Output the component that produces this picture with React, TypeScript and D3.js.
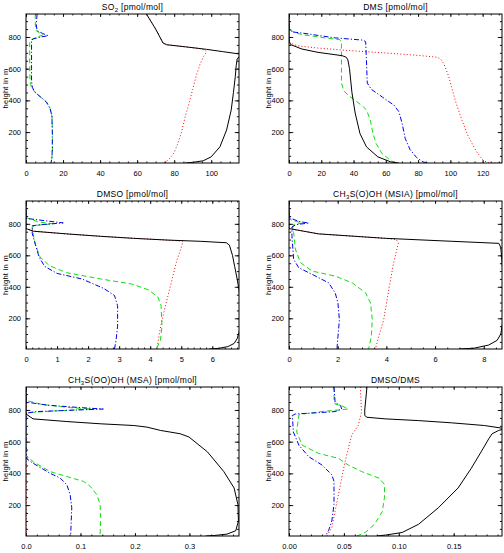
import * as d3 from 'd3';
import React, { useRef, useEffect } from 'react';

// vertical axis: model column from 5 m up to 945 m
const heightRange = [5, 945];
const heightTicks = [200, 400, 600, 800];
const heightMinor = d3.range(50, 945, 50);

// profiles are [mixing ratio, height in m]
// SO2
const so2Solid = [[65, 945], [70, 850], [74, 762], [76, 751], [86, 738], [97.5, 722], [106, 708], [118, 688], [115, 676], [114, 660], [113.5, 620], [113, 550], [112, 450], [110.8, 340], [108.3, 213], [104.7, 107], [100, 44], [95.7, 19], [90, 9], [86, 5]];
const so2Dotted = [[65, 945], [70, 850], [74, 762], [76, 751], [86, 738], [94, 727], [96.5, 718], [97.5, 705], [96, 680], [94, 630], [92, 560], [90, 470], [88, 380], [86, 300], [84, 200], [82, 130], [80, 70], [77, 25], [74, 5]];
const so2Dashed = [[5, 945], [5, 880], [5.5, 840], [8, 820], [9, 812], [6, 800], [3, 785], [2, 770], [2, 700], [2, 600], [2.2, 520], [3, 480], [5, 450], [8, 420], [11, 390], [13, 350], [14, 300], [14.3, 200], [14.3, 100], [14, 40], [13.5, 5]];
const so2DashDot = [[6, 945], [5.5, 880], [6, 840], [9, 822], [12, 808], [8, 800], [4, 788], [3, 780], [3, 700], [3, 600], [3, 520], [3.5, 480], [5, 450], [8, 420], [11, 390], [13, 350], [14, 300], [14.2, 200], [14.2, 100], [14, 40], [13.5, 5]];

// DMS
const dmsSolid = [[0, 945], [0, 800], [0.3, 770], [1, 752], [8, 724], [18, 703], [33, 682], [35.5, 672], [36.5, 655], [37.5, 600], [39, 450], [41, 320], [44, 190], [48, 107], [55, 44], [63, 12], [68, 5]];
const dmsDotted = [[0, 945], [0, 765], [5, 745], [18, 730], [39, 713], [60, 699], [80, 684], [92, 672], [94, 660], [96, 630], [99, 550], [103, 400], [107, 280], [111, 175], [116, 80], [120, 25], [123, 8], [126, 5], [132, 5]];
const dmsDashed = [[0, 945], [0, 850], [3, 830], [8, 815], [22, 795], [31.5, 783], [32.5, 770], [32.5, 600], [32.5, 510], [34, 460], [37, 430], [41, 400], [46, 360], [48, 340], [50.4, 276], [52, 192], [54, 128], [57.6, 65], [62.8, 23], [66, 5]];
const dmsDashDot = [[0, 945], [0, 850], [2, 832], [8, 825], [28, 795], [46, 780], [47.5, 770], [48, 650], [48.5, 510], [51, 470], [58, 420], [65, 370], [68, 330], [70, 260], [72, 160], [75, 90], [79, 40], [83, 12], [86, 5]];

// DMSO
const dmsoSolid = [[0, 945], [0, 770], [0.24, 753], [1.31, 736], [2.39, 721], [3.46, 708], [4.54, 697], [5.61, 689], [6.45, 680], [6.55, 665], [6.65, 600], [6.72, 530], [6.8, 450], [6.86, 380], [6.9, 300], [6.9, 150], [6.86, 110], [6.8, 70], [6.7, 40], [6.5, 20], [6.2, 9], [5.9, 5]];
const dmsoDotted = [[0, 770], [0.24, 753], [1.31, 736], [2.39, 721], [3.46, 708], [4.54, 697], [5.05, 690], [5.02, 660], [4.86, 570], [4.65, 404], [4.43, 232], [4.3, 110], [4.22, 5]];
const dmsoDashed = [[0, 945], [0, 840], [0.4, 812], [0.88, 800], [0.3, 790], [0.2, 780], [0.22, 746], [0.3, 670], [0.45, 590], [0.75, 535], [1.3, 490], [2.4, 450], [3.4, 418], [3.95, 380], [4.25, 335], [4.35, 280], [4.38, 150], [4.33, 60], [4.2, 5]];
const dmsoDashDot = [[0, 945], [0, 835], [0.6, 820], [1.2, 806], [0.5, 795], [0.2, 788], [0.2, 740], [0.3, 670], [0.42, 590], [0.6, 530], [1.0, 485], [1.8, 450], [2.5, 390], [2.85, 345], [2.95, 280], [2.95, 150], [2.9, 60], [2.85, 5]];

// MSIA
const msiaSolid = [[0, 945], [0, 770], [1.22, 736], [3.96, 708], [6.7, 689], [8.62, 676], [8.7, 650], [8.75, 560], [8.8, 450], [8.8, 200], [8.7, 100], [8.55, 60], [8.2, 30], [7.6, 10], [7.0, 5]];
const msiaDotted = [[0, 770], [1.22, 736], [3.96, 708], [4.4, 700], [4.5, 682], [4.3, 554], [4.1, 383], [3.89, 190], [3.68, 82], [3.55, 5]];
const msiaDashed = [[0, 945], [0, 830], [0.3, 815], [0.55, 805], [0.2, 795], [0.15, 780], [0.19, 746], [0.26, 640], [0.47, 554], [0.95, 500], [1.9, 468], [2.6, 425], [3.15, 361], [3.35, 297], [3.42, 190], [3.38, 82], [3.27, 5]];
const msiaDashDot = [[0, 945], [0, 840], [0.4, 815], [0.81, 805], [0.3, 795], [0.12, 780], [0.12, 725], [0.19, 575], [0.4, 521], [0.95, 479], [1.63, 425], [1.9, 361], [2.01, 297], [2.07, 190], [2.01, 82], [1.97, 5]];

// MSA
const msaSolid = [[0, 945], [0, 775], [0.013, 744], [0.075, 727], [0.136, 713], [0.198, 702], [0.222, 692], [0.247, 671], [0.283, 650], [0.299, 630], [0.333, 536], [0.363, 412], [0.382, 308], [0.389, 204], [0.39, 100], [0.385, 38], [0.369, 17], [0.345, 8], [0.33, 5]];
const msaDotted = [[0.0005, 945], [0.0005, 5]];
const msaDashed = [[0, 945], [0, 860], [0.03, 835], [0.08, 815], [0.12, 806], [0.06, 795], [0.01, 785], [0, 770], [0, 515], [0.013, 474], [0.044, 412], [0.075, 380], [0.106, 349], [0.118, 318], [0.13, 266], [0.136, 204], [0.137, 121], [0.136, 5]];
const msaDashDot = [[0, 945], [0, 850], [0.04, 830], [0.1, 815], [0.142, 806], [0.08, 798], [0.02, 790], [0, 780], [0, 495], [0.013, 464], [0.044, 401], [0.063, 370], [0.075, 328], [0.081, 266], [0.084, 183], [0.083, 100], [0.082, 5]];

// DMSO/DMS ratio
const ratioSolid = [[0.071, 945], [0.069, 800], [0.069, 765], [0.071, 754], [0.0876, 744], [0.118, 733], [0.148, 719], [0.178, 702], [0.197, 682], [0.191, 671], [0.185, 650], [0.182, 619], [0.175, 536], [0.166, 432], [0.154, 308], [0.136, 183], [0.118, 79], [0.103, 27], [0.088, 11], [0.08, 5]];
const ratioDotted = [[0.065, 945], [0.066, 785], [0.063, 702], [0.057, 640], [0.054, 557], [0.051, 474], [0.048, 370], [0.045, 266], [0.042, 162], [0.039, 58], [0.0345, 5]];
const ratioDashed = [[0.041, 945], [0.041, 869], [0.042, 837], [0.048, 827], [0.054, 806], [0.03, 790], [0.012, 775], [0.009, 769], [0.007, 661], [0.012, 578], [0.027, 526], [0.045, 495], [0.054, 453], [0.066, 412], [0.082, 370], [0.087, 330], [0.087, 250], [0.085, 160], [0.078, 80], [0.07, 30], [0.062, 5]];
const ratioDashDot = [[0.041, 945], [0.042, 848], [0.047, 827], [0.048, 806], [0.042, 790], [0.02, 780], [0.006, 775], [0.003, 765], [0.004, 661], [0.009, 578], [0.018, 505], [0.03, 453], [0.039, 391], [0.041, 349], [0.041, 204], [0.039, 100], [0.036, 38], [0.033, 5]];

// x tick values per panel
const so2Ticks = [0, 20, 40, 60, 80, 100];
const dmsTicks = [0, 20, 40, 60, 80, 100, 120];
const dmsoTicks = [0, 1, 2, 3, 4, 5, 6];
const msiaTicks = [0, 2, 4, 6, 8];
const msaTicks = [0, 0.1, 0.2, 0.3];
const ratioTicks = [0, 0.05, 0.1, 0.15];

const styles = {
    dotted: { color: '#ff0000', dash: '1,2.2' },
    dashed: { color: '#11dd11', dash: '5,3' },
    dashdot: { color: '#0000ee', dash: '5,2,1.2,2' },
    solid: { color: '#000000', dash: null },
};

const panels = [
    { title: [['SO', false], ['2', true], [' [pmol/mol]', false]], left: 26, right: 239, top: 14, bottom: 163, xMax: 115, ticks: so2Ticks, minor: 5, fmt: d3.format('d'),
      series: { dotted: so2Dotted, dashed: so2Dashed, dashdot: so2DashDot, solid: so2Solid } },
    { title: [['DMS [pmol/mol]', false]], left: 289, right: 502, top: 14, bottom: 163, xMax: 132, ticks: dmsTicks, minor: 5, fmt: d3.format('d'),
      series: { dotted: dmsDotted, dashed: dmsDashed, dashdot: dmsDashDot, solid: dmsSolid } },
    { title: [['DMSO [pmol/mol]', false]], left: 26, right: 239, top: 201, bottom: 349, xMax: 6.86, ticks: dmsoTicks, minor: 0.2, fmt: d3.format('d'),
      series: { dotted: dmsoDotted, dashed: dmsoDashed, dashdot: dmsoDashDot, solid: dmsoSolid } },
    { title: [['CH', false], ['3', true], ['S(O)OH (MSIA) [pmol/mol]', false]], left: 289, right: 502, top: 201, bottom: 349, xMax: 8.75, ticks: msiaTicks, minor: 0.5, fmt: d3.format('d'),
      series: { dotted: msiaDotted, dashed: msiaDashed, dashdot: msiaDashDot, solid: msiaSolid } },
    { title: [['CH', false], ['3', true], ['S(OO)OH (MSA) [pmol/mol]', false]], left: 26, right: 239, top: 387, bottom: 536, xMax: 0.391, ticks: msaTicks, minor: 0.02, fmt: d3.format('.1f'),
      series: { dotted: msaDotted, dashed: msaDashed, dashdot: msaDashDot, solid: msaSolid } },
    { title: [['DMSO/DMS', false]], left: 289, right: 502, top: 387, bottom: 536, xMax: 0.194, ticks: ratioTicks, minor: 0.01, fmt: d3.format('.2f'),
      series: { dotted: ratioDotted, dashed: ratioDashed, dashdot: ratioDashDot, solid: ratioSolid } },
];

const font = '"Liberation Sans", Arial, sans-serif';

function ProfilePanels() {

    const ref = useRef(null);

    useEffect(() => {
        const svg = d3.select(ref.current);
        svg.selectAll('*').remove();
        const defs = svg.append('defs');

        panels.forEach((p, i) => {
            const x = d3.scaleLinear().domain([0, p.xMax]).range([p.left, p.right]);
            const y = d3.scaleLinear().domain(heightRange).range([p.bottom, p.top]);
            const xMinor = d3.range(0, p.xMax, p.minor);

            const g = svg.append('g');

            defs.append('clipPath').attr('id', 'clip' + i)
                .append('rect')
                .attr('x', p.left).attr('y', p.top)
                .attr('width', p.right - p.left).attr('height', p.bottom - p.top);

            // ticks on all four sides, pointing inwards
            const tickLenX = 0.02 * (p.bottom - p.top);
            const tickLenY = 0.02 * (p.right - p.left);
            const axes = [
                [d3.axisBottom(x).tickValues(p.ticks).tickSize(-tickLenX).tickPadding(8).tickFormat(p.fmt), `translate(0,${p.bottom})`],
                [d3.axisBottom(x).tickValues(xMinor).tickSize(-tickLenX / 2).tickFormat(() => ''), `translate(0,${p.bottom})`],
                [d3.axisTop(x).tickValues(p.ticks).tickSize(-tickLenX).tickFormat(() => ''), `translate(0,${p.top})`],
                [d3.axisTop(x).tickValues(xMinor).tickSize(-tickLenX / 2).tickFormat(() => ''), `translate(0,${p.top})`],
                [d3.axisLeft(y).tickValues(heightTicks).tickSize(-tickLenY).tickPadding(5).tickFormat(d3.format('d')), `translate(${p.left},0)`],
                [d3.axisLeft(y).tickValues(heightMinor).tickSize(-tickLenY / 2).tickFormat(() => ''), `translate(${p.left},0)`],
                [d3.axisRight(y).tickValues(heightTicks).tickSize(-tickLenY).tickFormat(() => ''), `translate(${p.right},0)`],
                [d3.axisRight(y).tickValues(heightMinor).tickSize(-tickLenY / 2).tickFormat(() => ''), `translate(${p.right},0)`],
            ];
            axes.forEach(([axis, tr]) => {
                const a = g.append('g').attr('transform', tr).call(axis);
                a.select('.domain').remove();
                a.attr('font-size', 7.5).attr('font-family', font);
                a.selectAll('line').attr('stroke', '#000').attr('stroke-width', 0.9);
                a.selectAll('text').attr('fill', '#000');
            });

            const line = d3.line()
                .x(d => x(d[0]))
                .y(d => y(d[1]));

            const lines = g.append('g').attr('clip-path', `url(#clip${i})`);
            ['dotted', 'dashed', 'dashdot', 'solid'].forEach(key => {
                lines.append('path')
                    .datum(p.series[key])
                    .attr('d', line)
                    .attr('fill', 'none')
                    .attr('stroke', styles[key].color)
                    .attr('stroke-width', 1)
                    .attr('stroke-dasharray', styles[key].dash);
            });

            g.append('rect')
                .attr('x', p.left).attr('y', p.top)
                .attr('width', p.right - p.left).attr('height', p.bottom - p.top)
                .attr('fill', 'none').attr('stroke', '#000').attr('stroke-width', 1);

            const title = g.append('text')
                .attr('x', (p.left + p.right) / 2)
                .attr('y', p.top - 4)
                .attr('text-anchor', 'middle')
                .attr('font-family', font)
                .attr('font-size', 8.5)
                .attr('letter-spacing', 0.3);
            p.title.forEach(([t, sub]) => {
                const span = title.append('tspan').text(t);
                if (sub) span.attr('font-size', 6).attr('dy', 2);
                else if (title.selectAll('tspan').size() > 1) span.attr('dy', -2);
            });

            // y label, rotated; baseline sits a few px in from the page edge
            g.append('text')
                .attr('transform', `translate(${p.left - 18.5},${(p.top + p.bottom) / 2}) rotate(-90)`)
                .attr('text-anchor', 'middle')
                .attr('font-family', font)
                .attr('font-size', 7.5)
                .attr('letter-spacing', 0.3)
                .text('height in m');
        });
    }, []);

    return (
        <svg ref={ref} width={504} height={553}
             style={{ position: 'absolute', left: 0, top: 0, background: '#fff' }} />
    );
}

export default function App() {
    return <ProfilePanels />;
}
